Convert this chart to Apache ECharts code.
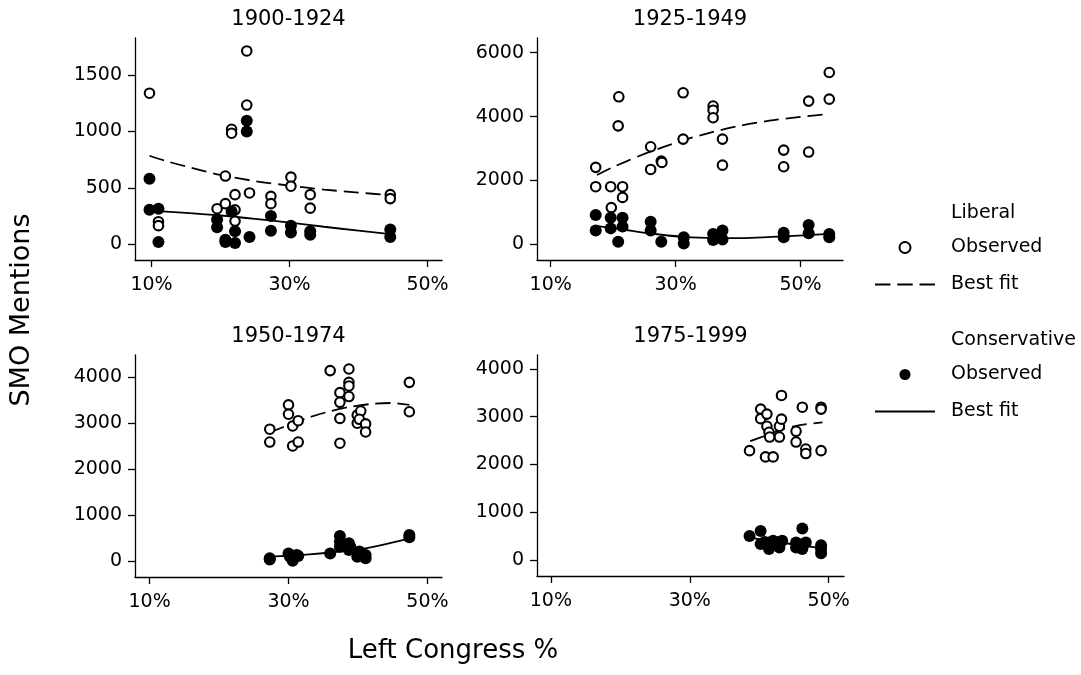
<!DOCTYPE html>
<html>
<head>
<meta charset="utf-8">
<script src="https://cdn.jsdelivr.net/npm/echarts@6/dist/echarts.min.js"></script>
<style>
html,body{margin:0;padding:0;background:#fff;}
#chart{width:1081px;height:675px;}
</style>
</head>
<body>
<div id="chart"></div>
<script>
// ---------- data ----------
var panelTitles = ['1900-1924', '1925-1949', '1950-1974', '1975-1999'];
var xTicks = [10, 30, 50];
var yTicks1 = [0, 500, 1000, 1500];
var yTicks2 = [0, 2000, 4000, 6000];
var yTicks3 = [0, 1000, 2000, 3000, 4000];
var yTicks4 = [0, 1000, 2000, 3000, 4000];

// 1900-1924
var p1LibObs = [[9.7,1340],[11.0,200],[11.0,165],[23.8,1715],[23.8,1235],[21.6,1020],[21.6,985],[20.7,605],[22.1,440],[24.2,455],[19.5,315],[20.7,360],[22.1,305],[22.1,205],[27.3,425],[27.3,360],[30.2,595],[30.2,515],[33.0,440],[33.0,320],[44.6,440],[44.6,405]];
var p1ConObs = [[9.7,580],[9.7,305],[11.0,315],[11.0,20],[23.8,1095],[23.8,1000],[19.5,220],[19.5,150],[20.7,40],[21.6,290],[22.1,115],[22.1,10],[20.7,20],[24.2,65],[27.3,250],[27.3,120],[30.2,165],[30.2,105],[33.0,115],[33.0,85],[44.6,130],[44.6,65]];
var p1LibFit = [[9.7,785],[12,740],[15,690],[20,615],[25,560],[30,520],[35,485],[40,458],[44.6,435]];
var p1ConFit = [[9.7,298],[15,278],[20,255],[25,225],[30,192],[35,155],[40,120],[44.6,89]];

// 1925-1949
var p2LibObs = [[17.2,2410],[17.2,1805],[19.6,1805],[19.7,1150],[20.9,4620],[20.8,3710],[21.5,1805],[21.5,1470],[26.0,3055],[26.0,2345],[27.7,2610],[27.8,2565],[31.2,4745],[31.2,3295],[36.0,4330],[36.0,4200],[36.0,3965],[37.5,3295],[37.5,2480],[47.3,2950],[47.3,2430],[51.3,4485],[51.3,2890],[54.6,5380],[54.6,4545]];
var p2ConObs = [[17.2,920],[17.2,430],[19.6,835],[19.6,500],[20.8,85],[21.5,835],[21.5,555],[26.0,710],[26.0,430],[27.7,85],[31.3,220],[31.3,30],[36.0,325],[36.0,135],[37.5,430],[37.5,155],[47.3,365],[47.3,220],[51.3,605],[51.3,345],[54.6,325],[54.6,220]];
var p2LibFit = [[17.4,2170],[20,2420],[25,2830],[30,3180],[35,3470],[40,3700],[45,3870],[50,3990],[54.6,4080]];
var p2ConFit = [[17.2,575],[21,480],[26,340],[31,240],[36,195],[42,205],[47.3,250],[54.6,330]];

// 1950-1974
var p3LibObs = [[27.3,2870],[27.3,2590],[30.0,3400],[30.0,3195],[30.6,2940],[30.6,2505],[31.4,3055],[31.4,2590],[36.0,4145],[37.4,2565],[37.4,3665],[37.4,3455],[37.4,3105],[38.7,4180],[38.7,3890],[38.7,3810],[38.7,3580],[39.9,3175],[39.9,3000],[40.4,3265],[40.2,3085],[41.1,2985],[41.1,2810],[47.4,3890],[47.4,3250]];
var p3ConObs = [[27.3,60],[27.3,35],[30.0,165],[30.2,95],[30.6,5],[31.2,130],[31.4,110],[36.0,165],[37.4,545],[37.4,420],[37.4,310],[38.7,385],[38.7,240],[38.9,310],[39.9,95],[40.2,205],[41.1,60],[41.1,130],[47.4,565],[47.4,515]];
var p3LibFit = [[27.3,2800],[30,2960],[33,3130],[36,3260],[39,3360],[42,3420],[45,3440],[47.4,3400]];
var p3ConFit = [[27.3,95],[30,115],[33,145],[36,185],[40,250],[44,370],[47.4,495]];

// 1975-1999
var p4LibObs = [[38.6,2290],[40.2,3160],[40.2,2960],[40.9,2160],[41.1,3055],[41.1,2800],[41.4,2675],[41.5,2575],[42.0,2160],[42.9,2575],[42.9,2800],[43.2,3445],[43.2,2950],[45.3,2695],[45.3,2470],[46.2,3200],[46.7,2325],[46.7,2230],[48.9,2290],[48.9,3200],[48.9,3160]];
var p4ConObs = [[38.6,505],[40.2,610],[40.2,335],[40.8,380],[41.4,230],[41.5,370],[42.0,405],[42.9,380],[42.9,265],[43.3,405],[45.3,370],[45.3,265],[46.2,660],[46.2,230],[46.7,370],[48.9,310],[48.9,230],[48.9,145]];
var p4LibFit = [[38.7,2490],[41,2610],[43,2720],[45,2800],[47,2850],[49.1,2880]];
var p4ConFit = [[38.7,470],[42,390],[45,330],[49.1,245]];

// ---------- chart ----------
var FONT = 'DejaVu Sans';
var panels = [
  {grid:{left:135,top:38,width:307,height:222}, xMin:7.6, xMax:52.1, yMin:-140, yMax:1830, yTicks:yTicks1, lib:p1LibObs, con:p1ConObs, libFit:p1LibFit, conFit:p1ConFit},
  {grid:{left:537,top:38,width:306,height:222}, xMin:7.8, xMax:56.8, yMin:-490, yMax:6460, yTicks:yTicks2, lib:p2LibObs, con:p2ConObs, libFit:p2LibFit, conFit:p2ConFit},
  {grid:{left:135,top:355,width:307,height:222}, xMin:7.9, xMax:52.1, yMin:-348, yMax:4485, yTicks:yTicks3, lib:p3LibObs, con:p3ConObs, libFit:p3LibFit, conFit:p3ConFit},
  {grid:{left:537,top:355,width:307,height:221}, xMin:8.0, xMax:52.2, yMin:-333, yMax:4292, yTicks:yTicks4, lib:p4LibObs, con:p4ConObs, libFit:p4LibFit, conFit:p4ConFit}
];

var axisLineStyle = {color:'#000', width:1.3};
var grids = [], xAxes = [], yAxes = [], series = [], graphics = [];

panels.forEach(function(p, i){
  grids.push(Object.assign({containLabel:false}, p.grid));
  xAxes.push({
    type:'value', gridIndex:i, min:p.xMin, max:p.xMax,
    axisLine:{show:true, onZero:false, lineStyle:axisLineStyle},
    axisTick:{show:true, length:7, customValues:xTicks, lineStyle:axisLineStyle},
    axisLabel:{customValues:xTicks, formatter:function(v){ return v + '%'; }, color:'#000', fontFamily:FONT, fontSize:19, margin:16},
    splitLine:{show:false}
  });
  yAxes.push({
    type:'value', gridIndex:i, min:p.yMin, max:p.yMax,
    axisLine:{show:true, onZero:false, lineStyle:axisLineStyle},
    axisTick:{show:true, length:7, customValues:p.yTicks, lineStyle:axisLineStyle},
    axisLabel:{customValues:p.yTicks, formatter:function(v){ return String(v); }, color:'#000', fontFamily:FONT, fontSize:19, margin:13},
    splitLine:{show:false}
  });
  series.push({
    name:'Liberal Best fit', type:'line', xAxisIndex:i, yAxisIndex:i, data:p.libFit,
    smooth:0.3, symbol:'none', z:2, silent:true,
    lineStyle:{color:'#000', width:1.8, type:[15,7]}, itemStyle:{color:'#000'}
  });
  series.push({
    name:'Conservative Best fit', type:'line', xAxisIndex:i, yAxisIndex:i, data:p.conFit,
    smooth:0.3, symbol:'none', z:2, silent:true,
    lineStyle:{color:'#000', width:1.8, type:'solid'}, itemStyle:{color:'#000'}
  });
  series.push({
    name:'Liberal Observed', type:'scatter', xAxisIndex:i, yAxisIndex:i, data:p.lib,
    symbol:'circle', symbolSize:9.5, z:3,
    itemStyle:{color:'#fff', borderColor:'#000', borderWidth:2.1, opacity:1}
  });
  series.push({
    name:'Conservative Observed', type:'scatter', xAxisIndex:i, yAxisIndex:i, data:p.con,
    symbol:'circle', symbolSize:12, z:4,
    itemStyle:{color:'#000', borderColor:'#000', borderWidth:0, opacity:1}
  });
  graphics.push({
    type:'text', x:p.grid.left + p.grid.width/2, y:p.grid.top - 18,
    style:{text:panelTitles[i], font:'21px "DejaVu Sans"', fill:'#000', align:'center', verticalAlign:'middle', textAlign:'center', textVerticalAlign:'middle'}
  });
});

graphics.push({
  type:'text', x:22, y:310, rotation:Math.PI/2,
  style:{text:'SMO Mentions', font:'27px "DejaVu Sans"', fill:'#000', align:'center', verticalAlign:'middle', textAlign:'center', textVerticalAlign:'middle'}
});
graphics.push({
  type:'text', x:453, y:651,
  style:{text:'Left Congress %', font:'26px "DejaVu Sans"', fill:'#000', align:'center', verticalAlign:'middle', textAlign:'center', textVerticalAlign:'middle'}
});
graphics.push({
  type:'text', x:951, y:213,
  style:{text:'Liberal', font:'19px "DejaVu Sans"', fill:'#000', align:'left', verticalAlign:'middle', textAlign:'left', textVerticalAlign:'middle'}
});
graphics.push({
  type:'text', x:951, y:340,
  style:{text:'Conservative', font:'19px "DejaVu Sans"', fill:'#000', align:'left', verticalAlign:'middle', textAlign:'left', textVerticalAlign:'middle'}
});

var dashIcon = 'path://M0,0H16V2H0Z M23,0H39V2H23Z M46,0H62V2H46Z';
var solidIcon = 'path://M0,0H62V2H0Z';
var legendCommon = {
  orient:'vertical', left:870, itemWidth:60, itemHeight:11, itemGap:18,
  selectedMode:false,
  textStyle:{color:'#000', fontFamily:FONT, fontSize:19, padding:[0,0,0,11]},
  formatter:function(n){ return n.replace(/^(Liberal|Conservative) /, ''); }
};

var chart = echarts.init(document.getElementById('chart'), null, {renderer:'canvas'});
chart.setOption({
  backgroundColor:'#fff',
  animation:false,
  grid:grids, xAxis:xAxes, yAxis:yAxes, series:series,
  legend:[
    Object.assign({top:233, data:[
      {name:'Liberal Observed'},
      {name:'Liberal Best fit', icon:dashIcon, itemStyle:{color:'#000', borderWidth:0}}
    ]}, legendCommon),
    Object.assign({top:360, data:[
      {name:'Conservative Observed'},
      {name:'Conservative Best fit', icon:solidIcon, itemStyle:{color:'#000', borderWidth:0}}
    ]}, legendCommon)
  ],
  graphic:graphics
});
</script>
</body>
</html>
